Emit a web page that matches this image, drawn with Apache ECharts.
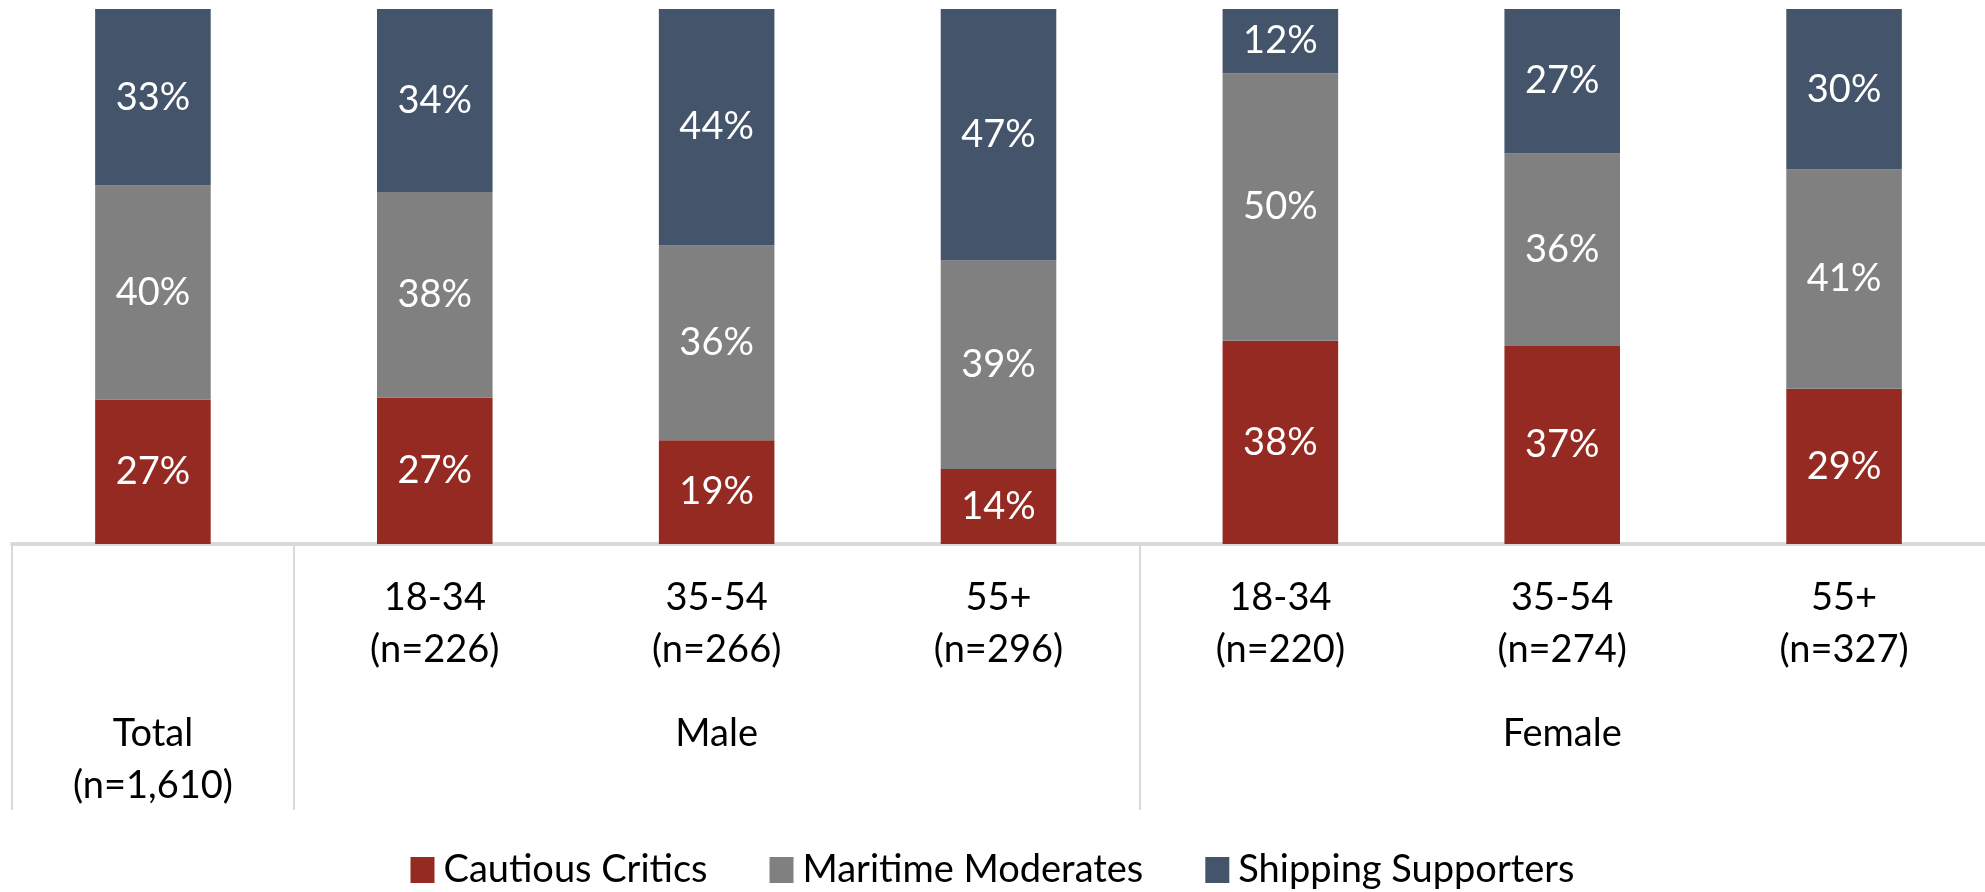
<!DOCTYPE html>
<html>
<head>
<meta charset="utf-8">
<script src="https://cdn.jsdelivr.net/npm/echarts@6/dist/echarts.min.js"></script>
<style>
  html, body { margin: 0; padding: 0; background: #fff; }
  #chart { width: 1985px; height: 892px; }
</style>
</head>
<body>
<div id="chart"></div>
<script>
// categories (level 1 = age band, level 2 = gender group)
const categoryKeys = ["Total", "Male 18-34", "Male 35-54", "Male 55+", "Female 18-34", "Female 35-54", "Female 55+"];
const ageLabels = ["", "18-34", "35-54", "55+", "18-34", "35-54", "55+"];
const sampleSizes = ["n=1,610", "n=226", "n=266", "n=296", "n=220", "n=274", "n=327"];
const groupNames = ["Total\n(n=1,610)", "Male", "Female"];
const groupSizes = [1, 3, 3];

// shares in %
const cautiousCritics = [27, 27.4, 19.4, 14, 38, 37, 29];
const maritimeModerates = [40, 38.4, 36.4, 39, 50, 36, 41];
const shippingSupporters = [33, 34.2, 44.2, 47, 12, 27, 30];

const FONT = "Lato, 'Open Sans', sans-serif";

// group boundaries / centres in category units
var groupStarts = [];
var groupCenters = [];
var acc = 0;
groupSizes.forEach(function (s) {
  groupStarts.push(acc);
  groupCenters.push(acc + s / 2);
  acc += s;
});

var dom = document.getElementById("chart");
var myChart = echarts.init(dom, null, { renderer: "canvas" });

function barSeries(name, data, color) {
  return {
    name: name,
    type: "bar",
    stack: "all",
    barWidth: "41%",
    data: data,
    itemStyle: { color: color },
    label: {
      show: true,
      position: "inside",
      color: "#fff",
      fontFamily: FONT,
      fontSize: 38,
      formatter: function (p) {
        return Math.round(p.value) + "%";
      },
    },
  };
}

var option = {
  animation: false,
  grid: { left: 12, right: -3, top: 9, bottom: 348, containLabel: false },
  legend: {
    bottom: -2,
    left: "center",
    icon: "rect",
    itemWidth: 24,
    itemHeight: 26,
    itemGap: 62,
    textStyle: { fontFamily: FONT, fontSize: 38, color: "#000", padding: [0, 0, 0, 4] },
    data: ["Cautious Critics", "Maritime Moderates", "Shipping Supporters"],
  },
  xAxis: [
    {
      type: "category",
      data: categoryKeys,
      position: "bottom",
      axisLine: { show: true, lineStyle: { color: "#D9D9D9", width: 4 } },
      axisTick: { show: false },
      axisLabel: {
        interval: 0,
        margin: 28,
        color: "#000",
        fontFamily: FONT,
        fontSize: 38,
        lineHeight: 52,
        formatter: function (value, index) {
          if (!ageLabels[index]) return "";
          return ageLabels[index] + "\n(" + sampleSizes[index] + ")";
        },
      },
    },
    {
      // group level: separators and group names
      type: "value",
      min: 0,
      max: categoryKeys.length,
      position: "bottom",
      axisLine: { show: false },
      splitLine: { show: false },
      axisTick: {
        show: true,
        length: 266,
        customValues: groupStarts,
        lineStyle: { color: "#D9D9D9", width: 2 },
      },
      axisLabel: {
        margin: 164,
        color: "#000",
        fontFamily: FONT,
        fontSize: 38,
        lineHeight: 52,
        customValues: groupCenters,
        formatter: function (value) {
          var i = groupCenters.indexOf(value);
          return i >= 0 ? groupNames[i] : "";
        },
      },
    },
  ],
  yAxis: { type: "value", min: 0, max: 100, show: false },
  series: [
    barSeries("Cautious Critics", cautiousCritics, "#942A22"),
    barSeries("Maritime Moderates", maritimeModerates, "#808080"),
    barSeries("Shipping Supporters", shippingSupporters, "#44546A"),
  ],
};

myChart.setOption(option);
</script>
</body>
</html>
